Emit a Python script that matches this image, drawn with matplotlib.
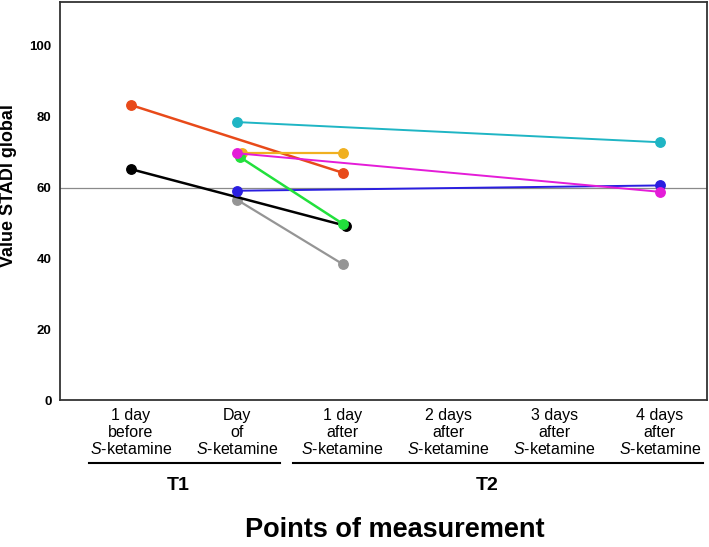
import numpy as np
import matplotlib
matplotlib.use("Agg")
import matplotlib.pyplot as plt
from matplotlib.transforms import blended_transform_factory

plt.rcParams['font.family'] = ['Liberation Sans', 'DejaVu Sans']
plt.rcParams['mathtext.fontset'] = 'custom'
plt.rcParams['mathtext.rm'] = 'Liberation Sans'
plt.rcParams['mathtext.it'] = 'Liberation Sans:italic'

categories = ["1 day\nbefore\n$\\mathit{S}$-ketamine",
              "Day\nof\n$\\mathit{S}$-ketamine",
              "1 day\nafter\n$\\mathit{S}$-ketamine",
              "2 days\nafter\n$\\mathit{S}$-ketamine",
              "3 days\nafter\n$\\mathit{S}$-ketamine",
              "4 days\nafter\n$\\mathit{S}$-ketamine"]

# each patient: measurement positions (category index) and STADI values
gray_x, gray_y = [1, 2], [56.6, 38.4]
black_x, black_y = [0, 2.03], [65.2, 49.2]
red_x, red_y = [0, 2], [83.3, 64.2]
cyan_x, cyan_y = [1, 5], [78.5, 72.8]
yellow_x, yellow_y = [1.05, 2], [69.8, 69.8]
blue_x, blue_y = [1, 5], [59.1, 60.6]
green_x, green_y = [1.03, 2], [68.6, 49.8]
magenta_x, magenta_y = [1, 5], [69.7, 58.8]

series = [
    (gray_x, gray_y, '#959595', 1.6),
    (black_x, black_y, '#000000', 1.8),
    (red_x, red_y, '#e84a1a', 1.8),
    (cyan_x, cyan_y, '#1fb5c4', 1.4),
    (yellow_x, yellow_y, '#f0b020', 1.6),
    (blue_x, blue_y, '#2a1ee0', 1.4),
    (green_x, green_y, '#22e03c', 1.8),
    (magenta_x, magenta_y, '#e41cd8', 1.4),
]

fig = plt.figure(figsize=(7.09, 5.47), dpi=100)
ax = fig.add_axes([0.0846, 0.2687, 0.9126, 0.7276])

ax.axhline(60, color='#8a8a8a', lw=0.9, zorder=1)

for xs, ys, c, lw in series:
    ax.plot(xs, ys, '-o', color=c, lw=lw, ms=6.8, zorder=3)

ax.set_xlim(-0.671, 5.445)
ax.set_ylim(0, 112.4)
ax.set_xticks(range(len(categories)))
ax.set_xticklabels(categories, fontsize=11.5, linespacing=1.1)
ax.set_yticks([0, 20, 40, 60, 80, 100])
ax.set_yticklabels(['0', '20', '40', '60', '80', '100'], fontsize=9.5, fontweight='bold')
ax.tick_params(axis='both', length=0)
ax.tick_params(axis='x', pad=6)
ax.tick_params(axis='y', pad=6)
for s in ax.spines.values():
    s.set_color('#333333')
    s.set_linewidth(1.3)

ax.set_ylabel('Value STADI global', fontsize=13, fontweight='bold')
ax.yaxis.set_label_coords(-0.067, 0.538)

tr = blended_transform_factory(ax.transData, fig.transFigure)
ax.plot([-0.40, 1.41], [1 - 463 / 547] * 2, color='black', lw=1.5, transform=tr, clip_on=False)
ax.plot([1.53, 5.41], [1 - 463 / 547] * 2, color='black', lw=1.5, transform=tr, clip_on=False)
ax.text(0.45, 1 - 486 / 547, 'T1', transform=tr, ha='center', va='center',
        fontsize=14, fontweight='bold')
ax.text(3.37, 1 - 486 / 547, 'T2', transform=tr, ha='center', va='center',
        fontsize=14, fontweight='bold')

fig.text(395 / 709, 1 - 530 / 547, 'Points of measurement', ha='center', va='center',
         fontsize=19.5, fontweight='bold')

fig.savefig('out.png', dpi=100)
